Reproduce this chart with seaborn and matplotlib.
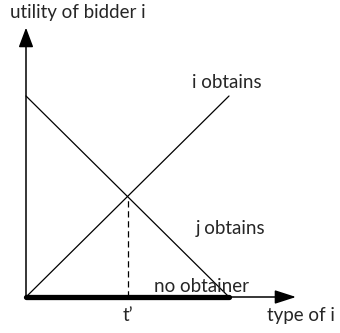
import numpy as np
import pandas as pd
import seaborn as sns
import matplotlib.pyplot as plt

# type of bidder i (normalised) and the two utility lines
types = [0.0, 0.5, 1.0]
i_obtains = [0.0, 0.5, 1.0]      # utility when i obtains
j_obtains = [1.0, 0.5, 0.0]      # utility when j obtains
t_prime = 0.5
no_obtainer_range = [0.0, 1.0]

sns.set_style("white")
plt.rcParams["font.family"] = ["Lato", "DejaVu Sans"]

fig = plt.figure(figsize=(3.4, 3.33), dpi=100)
ax = fig.add_axes([0, 0, 1, 1])

df = pd.DataFrame({"type": types, "i obtains": i_obtains, "j obtains": j_obtains})
sns.lineplot(data=df, x="type", y="i obtains", color="black", lw=0.9, ax=ax)
sns.lineplot(data=df, x="type", y="j obtains", color="black", lw=0.9, ax=ax)

# dashed drop line at t'
ax.plot([t_prime, t_prime], [0, np.interp(t_prime, types, i_obtains)],
        color="black", lw=0.9, ls=(0, (5, 3)))

# thick segment on the type axis
sns.lineplot(x=no_obtainer_range, y=[0, 0], color="black", lw=3.8,
             solid_capstyle="round", ax=ax)

# axes with arrow heads
ax.annotate("", xy=(1.33, 0), xytext=(0, 0),
            arrowprops=dict(arrowstyle="-|>,head_length=1.3,head_width=0.42",
                            color="black", lw=1.1, shrinkA=0, shrinkB=0))
ax.annotate("", xy=(0, 1.34), xytext=(0, 0),
            arrowprops=dict(arrowstyle="-|>,head_length=1.2,head_width=0.45",
                            color="black", lw=1.1, shrinkA=0, shrinkB=0))

fs = 13.5
ax.text(10 / 203 - 0.128, 1.415, "utility of bidder i", fontsize=fs, va="center", ha="left")
ax.text(166 / 203, 1.065, "i obtains", fontsize=fs, va="center", ha="left")
ax.text(170 / 203, 0.34, "j obtains", fontsize=fs, va="center", ha="left")
ax.text(128 / 203, 0.05, "no obtainer", fontsize=fs, va="center", ha="left")
ax.text(t_prime, -0.09, "t\u2019", fontsize=fs, va="center", ha="center")
ax.text(241 / 203, -0.09, "type of i", fontsize=fs, va="center", ha="left")

ax.set_xlim(-26 / 203, 314 / 203)
ax.set_ylim(-36 / 201, 297 / 201)
ax.set_axis_off()

fig.savefig("out.png", dpi=100)
